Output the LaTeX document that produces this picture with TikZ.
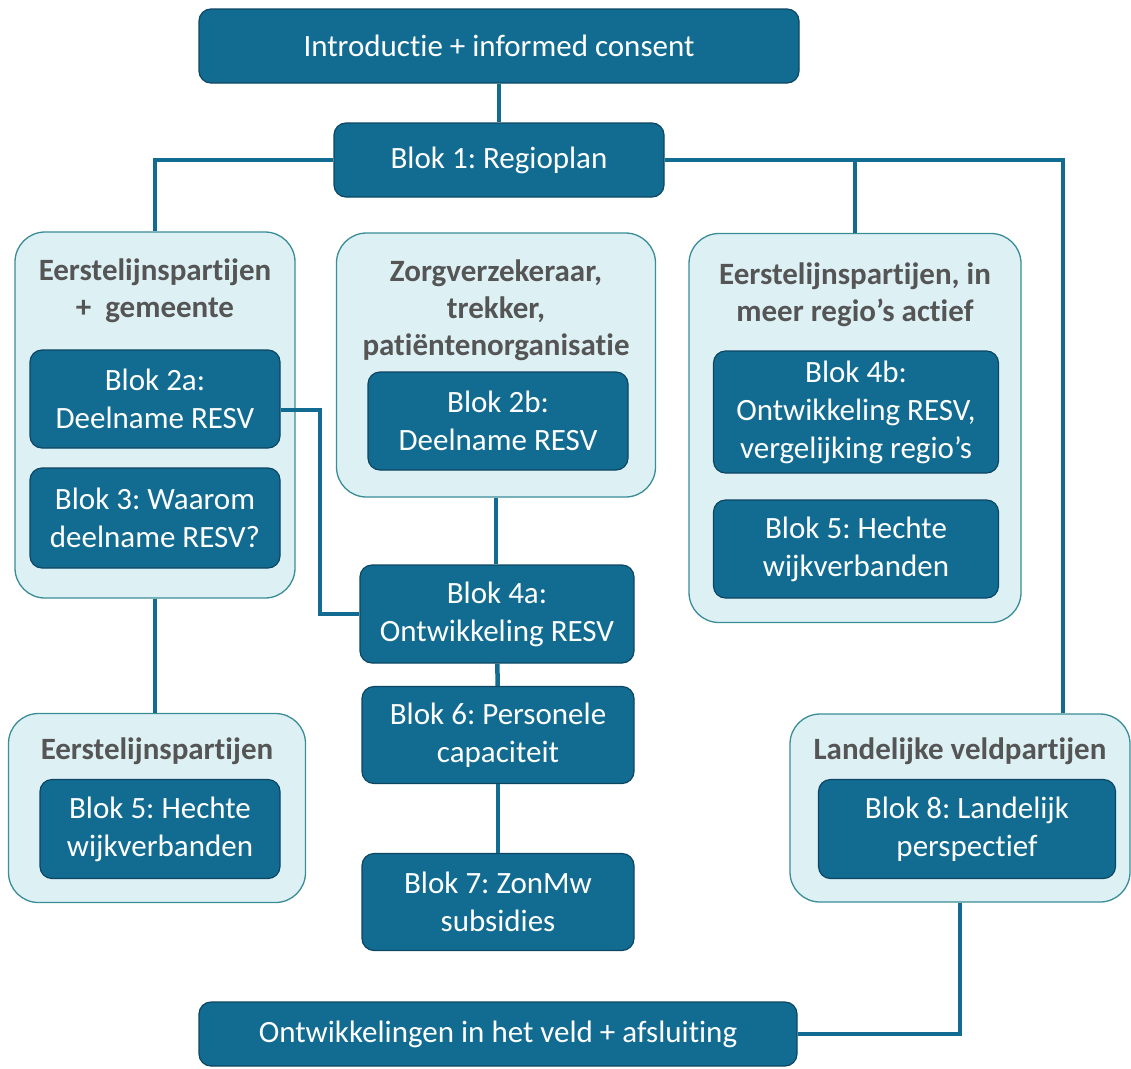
\documentclass[tikz,border=0pt]{standalone}
\usepackage{fontspec}
\setmainfont{Carlito}[Ligatures=NoCommon]
\usepackage{tikz}
\usetikzlibrary{positioning, calc}
\definecolor{rgBlue}{RGB}{18,108,146}
\definecolor{rgBlueDark}{RGB}{12,70,98}
\definecolor{rgMist}{RGB}{221,241,245}
\definecolor{rgTeal}{RGB}{58,140,150}
\definecolor{rgGrey}{RGB}{85,85,85}
\frenchspacing

\begin{document}
\begin{tikzpicture}[x=1pt, y=-1pt,
  blok/.style={rounded corners=12pt, fill=rgBlue, draw=rgBlueDark, line width=1.2pt, text=white,
               align=center, inner sep=0pt, font=\fontsize{31}{38}\selectfont},
  groep/.style={rounded corners=30pt, fill=rgMist, draw=rgTeal, line width=1.3pt, inner sep=0pt},
  kop/.style={text=rgGrey, align=center, inner sep=0pt, font=\fontsize{31}{37}\selectfont\bfseries},
  lijn/.style={line width=4.5pt, draw=rgBlue}
]
\useasboundingbox (0,0) rectangle (1131,1068);

% groups
\node[groep, minimum width=280, minimum height=366] (grpA) at (155,415) {};
\node[groep, minimum width=319, minimum height=264] (grpB) at (496,365) {};
\node[groep, minimum width=332, minimum height=389] (grpC) at (855,428) {};
\node[groep, minimum width=297, minimum height=189] (grpD) at (157,808) {};
\node[groep, minimum width=340, minimum height=188] (grpE) at (960,808) {};

\node[kop] (kopA) at (155,291) {Eerstelijnspartijen\\+~~gemeente};
\node[kop] (kopB) at (496,310) {Zorgverzekeraar,\\trekker,\\patiëntenorganisatie};
\node[kop] (kopC) at (855,295) {Eerstelijnspartijen, in\\meer regio’s actief};
\node[kop] (kopD) at (157,751) {Eerstelijnspartijen};
\node[kop] (kopE) at (960,751) {Landelijke veldpartijen};

% blocks
\node[blok, minimum width=600, minimum height=74] (intro) at (499,46) {Introductie + informed consent};
\node[blok, minimum width=330, minimum height=74] (b1) at (499,160) {Blok 1: Regioplan};
\node[blok, minimum width=250, minimum height=98] (b2a) at (155,399) {Blok 2a:\\Deelname RESV};
\node[blok, minimum width=250, minimum height=100] (b3) at (155,518) {Blok 3: Waarom\\deelname RESV?};
\node[blok, minimum width=260, minimum height=98] (b2b) at (498,421) {Blok 2b:\\Deelname RESV};
\node[blok, minimum width=285, minimum height=122] (b4b) at (856,412) {Blok 4b:\\Ontwikkeling RESV,\\vergelijking regio’s};
\node[blok, minimum width=285, minimum height=98] (b5r) at (856,549) {Blok 5: Hechte\\wijkverbanden};
\node[blok, minimum width=274, minimum height=98] (b4a) at (497,614) {Blok 4a:\\Ontwikkeling RESV};
\node[blok, minimum width=272, minimum height=97] (b6) at (498,735) {Blok 6: Personele\\capaciteit};
\node[blok, minimum width=272, minimum height=97] (b7) at (498,902) {Blok 7: ZonMw\\subsidies};
\node[blok, minimum width=240, minimum height=99] (b5l) at (160,829) {Blok 5: Hechte\\wijkverbanden};
\node[blok, minimum width=297, minimum height=99] (b8) at (967,829) {Blok 8: Landelijk\\perspectief};
\node[blok, minimum width=598, minimum height=64] (slot) at (498,1034) {Ontwikkelingen in het veld + afsluiting};

\coordinate (rturn) at (1063,160);
\coordinate (knik) at (320,410);

% connectors
\draw[lijn] (intro) -- (b1);
\draw[lijn] (b1.west) -| (grpA.north);
\draw[lijn] (b1.east) -- (rturn) -- (rturn |- grpE.north);
\draw[lijn] (grpC.north) |- (b1.east);
\draw[lijn] (grpB.south) -- (grpB.south |- b4a.north);
\draw[lijn] (b2a.east |- knik) -- (knik) |- (b4a.west);
\draw[lijn] (b4a) -- (b6);
\draw[lijn] (b6) -- (b7);
\draw[lijn] (grpA.south) -- (grpA.south |- grpD.north);
\draw[lijn] (grpE.south) |- (slot.east);
\end{tikzpicture}
\end{document}
